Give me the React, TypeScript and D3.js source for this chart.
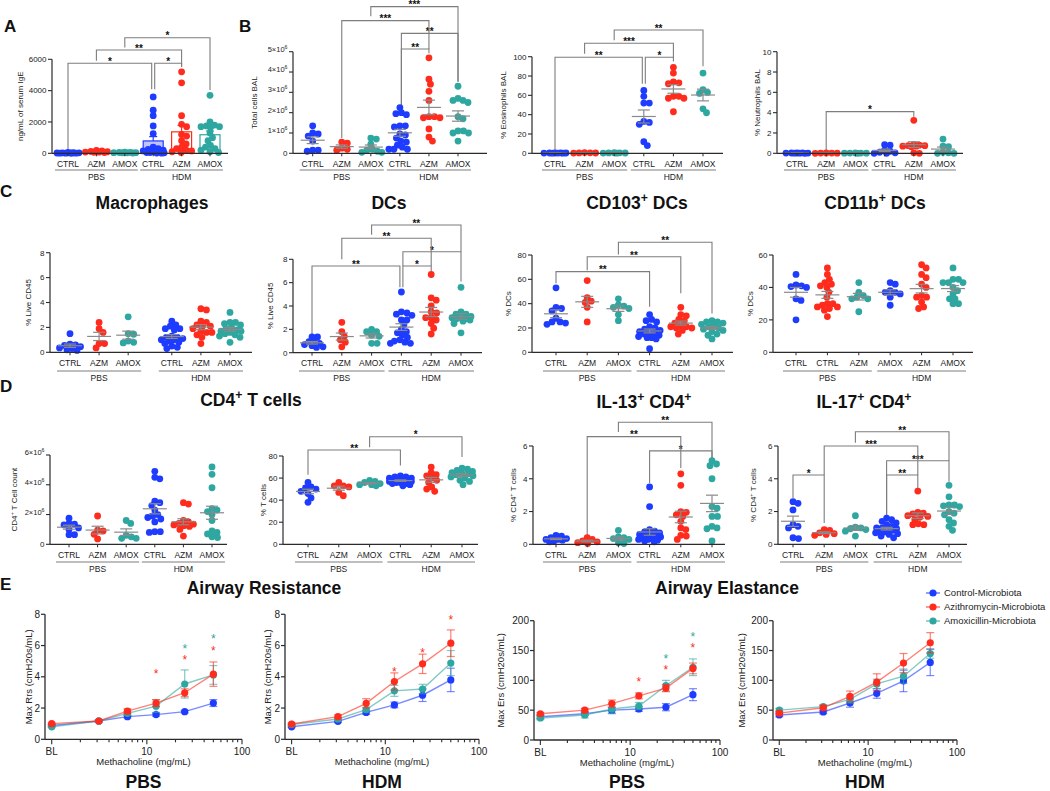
import React from 'react';
import * as d3 from 'd3';

const FONT = "'Liberation Sans', Arial, Helvetica, sans-serif";
const BLUE = '#1e3cff';
const RED = '#ff2b1c';
const TEAL = '#2ea7a0';
const COLORS = [BLUE, RED, TEAL, BLUE, RED, TEAL];

// ---------- categories ----------
const CATS = ['CTRL', 'AZM', 'AMOX', 'CTRL', 'AZM', 'AMOX'];
const CATS_CD11B = ['CTRL', 'CTRL', 'AZM', 'AMOX', 'AZM', 'AMOX'];
const GROUPS = ['PBS', 'HDM'];

// ---------- Panel A: serum IgE (ng/mL) ----------
const IGE: number[][] = [
  [60, 40, 30, 30, 20, 20, 10, 10, 5, 5],
  [180, 150, 120, 100, 80, 70, 60, 50],
  [70, 60, 50, 40, 40, 30, 30, 20],
  [3600, 2750, 2400, 1750, 1250, 400, 300, 250, 200, 150, 100, 100, 50, 50, 30, 20, 10],
  [5200, 4500, 2400, 1850, 1700, 1200, 1100, 800, 600, 400, 300, 200, 150, 100, 50],
  [3700, 2000, 1800, 1750, 1700, 1700, 1650, 1300, 1000, 800, 500, 400, 300, 200, 100, 50],
];

// ---------- Panel B ----------
const BAL_TOTAL: number[][] = [
  [1.35e6, 1.0e6, 0.95e6, 0.85e6, 0.6e6, 0.15e6, 0.15e6, 0.1e6],
  [0.55e6, 0.5e6, 0.25e6, 0.2e6, 0.15e6],
  [0.75e6, 0.7e6, 0.45e6, 0.2e6, 0.15e6, 0.1e6, 0.05e6, 0.05e6],
  [2.25e6, 2.0e6, 1.95e6, 1.9e6, 1.35e6, 1.35e6, 1.3e6, 0.95e6, 0.9e6, 0.75e6, 0.6e6, 0.55e6, 0.4e6, 0.3e6, 0.2e6, 0.2e6, 0.2e6],
  [4.7e6, 3.65e6, 3.4e6, 3.05e6, 2.6e6, 1.8e6, 1.8e6, 1.75e6, 1.75e6, 1.2e6, 0.8e6, 0.6e6],
  [3.3e6, 2.7e6, 2.6e6, 2.6e6, 2.5e6, 1.8e6, 1.7e6, 1.1e6, 1.1e6, 1.0e6, 1.0e6, 0.6e6],
];
const EOS: number[][] = [
  [0.5, 0.4, 0.3, 0.3, 0.2, 0.2, 0.1, 0.1],
  [0.8, 0.5, 0.4, 0.3, 0.2],
  [0.6, 0.5, 0.4, 0.3, 0.2, 0.1],
  [65, 59, 52, 52, 33, 32, 30, 12, 8],
  [89, 83, 74, 73, 72, 59, 59, 57, 57, 43],
  [83, 66, 63, 62, 46, 42],
];
const NEU: number[][] = [
  [0.05, 0.04, 0.03, 0.02, 0.02, 0.01, 0.01, 0],
  [0.03, 0.02, 0.02, 0.01, 0],
  [0.03, 0.02, 0.02, 0.01, 0.01, 0],
  [0.85, 0.8, 0.3, 0.2, 0.1, 0.05, 0, 0],
  [3.25, 0.85, 0.8, 0.75, 0.75, 0.7, 0.7, 0.65, 0.05, 0],
  [1.4, 0.7, 0.65, 0.1, 0.05, 0, 0],
];

// ---------- Panel C ----------
const MACRO: number[][] = [
  [1.5, 0.65, 0.6, 0.55, 0.45, 0.35, 0.3, 0.2, 0.15],
  [2.4, 1.9, 1.6, 0.7, 0.7, 0.35],
  [2.85, 1.5, 1.45, 0.9, 0.8, 0.75],
  [2.5, 2.2, 2.1, 1.9, 1.9, 1.8, 1.3, 1.2, 1.2, 1.1, 1.0, 1.0, 0.9, 0.8, 0.7, 0.5, 0.4, 0.3],
  [3.5, 3.4, 2.5, 2.4, 2.2, 2.1, 2.1, 1.9, 1.7, 1.6, 1.6, 1.4, 1.2, 0.7],
  [3.2, 2.4, 2.4, 2.3, 2.2, 2.0, 1.9, 1.8, 1.7, 1.7, 1.6, 1.5, 1.4, 1.3, 1.2, 0.8],
];
const DCS: number[][] = [
  [1.35, 1.35, 0.95, 0.95, 0.8, 0.7, 0.6, 0.5, 0.45],
  [2.6, 1.8, 1.4, 1.1, 0.9, 0.5],
  [2.0, 1.8, 1.8, 1.5, 1.4, 0.8, 0.8],
  [5.2, 3.5, 3.4, 3.3, 3.2, 2.8, 2.8, 2.4, 2.0, 1.8, 1.7, 1.5, 1.3, 1.1, 1.0, 0.9, 0.8, 0.8],
  [6.7, 4.7, 4.5, 4.0, 3.5, 3.4, 3.0, 3.0, 2.8, 2.5, 2.1, 1.6],
  [5.6, 3.5, 3.3, 3.3, 3.1, 3.0, 3.0, 2.9, 2.9, 2.8, 2.7, 2.5, 1.7],
];
const CD103: number[][] = [
  [53, 37, 36, 34, 28, 25, 25, 24, 23],
  [59, 45, 42, 41, 37, 25],
  [44, 39, 38, 37, 36, 31, 26],
  [31, 27, 26, 25, 21, 20, 19, 18, 17, 16, 16, 15, 14, 13, 12, 12, 11, 3],
  [37, 31, 30, 27, 26, 24, 22, 21, 21, 20, 20, 18, 15],
  [26, 25, 25, 24, 23, 22, 21, 20, 19, 18, 17, 15, 14, 11],
];
const CD11B: number[][] = [
  [48, 41.5, 41, 40.5, 40, 33, 32, 20],
  [52, 48, 45, 43, 42, 41, 40, 37, 34, 30, 30, 29, 28, 28, 27, 26, 22],
  [43, 37, 35, 34, 33, 33, 25],
  [43, 42, 38, 37, 37, 36, 34, 29],
  [54, 52, 48, 46, 42, 40, 35, 34, 34, 31, 28, 27],
  [52, 45, 45, 43, 43, 43, 40, 38, 36, 33, 33, 30, 30],
];

// ---------- Panel D ----------
const CD4_COUNT: number[][] = [
  [1.75e6, 1.4e6, 1.35e6, 1.3e6, 1.1e6, 1.0e6, 0.65e6, 0.65e6],
  [1.9e6, 0.95e6, 0.9e6, 0.67e6, 0.36e6],
  [1.6e6, 1.4e6, 0.6e6, 0.5e6, 0.4e6, 0.4e6],
  [4.9e6, 4.5e6, 4.4e6, 2.9e6, 2.8e6, 2.6e6, 2.3e6, 2.0e6, 1.9e6, 1.8e6, 1.7e6, 1.5e6, 0.85e6, 0.85e6, 0.8e6],
  [2.8e6, 2.7e6, 1.6e6, 1.5e6, 1.4e6, 1.35e6, 1.3e6, 1.25e6, 1.2e6, 1.0e6, 0.55e6],
  [5.2e6, 4.7e6, 3.8e6, 2.4e6, 2.3e6, 2.2e6, 2.0e6, 1.6e6, 0.9e6, 0.8e6, 0.7e6, 0.5e6, 0.45e6],
];
const TCELLS: number[][] = [
  [56, 52, 51, 50, 48, 46, 42, 38],
  [56, 53, 53, 52, 47, 44],
  [58, 57, 56, 55, 54, 54, 53],
  [62, 61, 61, 60, 60, 59, 59, 58, 58, 58, 57, 57, 56, 56, 55, 55, 54, 53],
  [70, 65, 63, 62, 60, 58, 56, 52, 50, 48],
  [69, 68, 67, 66, 65, 64, 64, 63, 62, 61, 60, 58, 57, 54],
];
const IL13: number[][] = [
  [0.55, 0.5, 0.4, 0.35, 0.3, 0.3, 0.25, 0.2, 0.15],
  [0.4, 0.3, 0.2, 0.15, 0.1, 0.05],
  [0.85, 0.45, 0.4, 0.35, 0.3, 0.1, 0.05],
  [3.5, 2.3, 0.9, 0.8, 0.75, 0.7, 0.6, 0.6, 0.5, 0.5, 0.45, 0.4, 0.35, 0.3, 0.3, 0.25, 0.2, 0.15],
  [4.3, 3.6, 2.0, 1.95, 1.8, 1.7, 1.4, 1.0, 0.9, 0.55, 0.5, 0.3],
  [5.1, 4.9, 4.8, 4.0, 2.3, 2.2, 1.7, 1.7, 1.1, 1.0, 0.95, 0.2],
];
const IL17: number[][] = [
  [2.6, 2.5, 2.1, 1.2, 1.1, 1.0, 0.4, 0.35],
  [0.9, 0.85, 0.7, 0.65, 0.6, 0.55],
  [1.75, 1.05, 1.0, 0.95, 0.9, 0.8, 0.5],
  [1.6, 1.5, 1.4, 1.3, 1.2, 1.1, 1.0, 1.0, 0.95, 0.9, 0.85, 0.8, 0.75, 0.7, 0.65, 0.6, 0.5, 0.4],
  [3.25, 1.95, 1.9, 1.85, 1.75, 1.7, 1.65, 1.5, 1.25, 1.2, 1.2],
  [3.6, 2.9, 2.4, 2.4, 2.35, 2.3, 2.0, 1.9, 1.8, 1.5, 1.3, 1.1, 0.85],
];

// ---------- Panel E: lung function ----------
const DOSES = [1, 3.125, 6.25, 12.5, 25, 50]; // first point = BL
const SERIES_NAMES = ['Control-Microbiota', 'Azithromycin-Microbiota', 'Amoxicillin-Microbiota'];
const RRS_PBS = [
  [0.88, 1.17, 1.45, 1.58, 1.77, 2.32],
  [1.0, 1.17, 1.8, 2.32, 2.98, 4.17],
  [0.8, 1.17, 1.66, 2.12, 3.54, 4.12],
];
const RRS_PBS_SEM = [
  [0.06, 0.06, 0.08, 0.1, 0.08, 0.22],
  [0.05, 0.06, 0.15, 0.22, 0.25, 0.78],
  [0.05, 0.06, 0.12, 0.4, 0.9, 0.6],
];
const RRS_HDM = [
  [0.8, 1.15, 1.72, 2.2, 2.82, 3.8],
  [0.98, 1.45, 2.3, 3.7, 4.83, 6.15],
  [0.95, 1.3, 1.9, 3.1, 3.22, 4.88],
];
const RRS_HDM_SEM = [
  [0.05, 0.08, 0.12, 0.18, 0.4, 0.75],
  [0.06, 0.1, 0.3, 0.55, 0.62, 0.85],
  [0.05, 0.08, 0.15, 0.35, 0.3, 0.8],
];
const ERS_PBS = [
  [39, 44, 50, 52, 55, 76],
  [44, 50, 61, 74, 87, 120],
  [37, 42, 52, 57, 91, 122],
];
const ERS_PBS_SEM = [
  [3, 3, 5, 4, 6, 10],
  [2, 3, 6, 5, 6, 9],
  [3, 5, 8, 6, 9, 14],
];
const ERS_HDM = [
  [42, 47, 62, 78, 99, 130],
  [45, 54, 73, 97, 129, 163],
  [50, 56, 68, 94, 107, 145],
];
const ERS_HDM_SEM = [
  [3, 3, 7, 8, 18, 22],
  [3, 4, 9, 14, 16, 17],
  [3, 3, 6, 8, 12, 8],
];
// significance stars: [dose, value, series index]
const STARS_RRS_PBS: [number, number, number][] = [[12.5, 4.35, 1], [25, 5.25, 1], [25, 5.97, 2], [50, 5.82, 1], [50, 6.6, 2]];
const STARS_RRS_HDM: [number, number, number][] = [[12.5, 4.48, 1], [25, 5.71, 1], [50, 7.8, 1]];
const STARS_ERS_PBS: [number, number, number][] = [[12.5, 103, 1], [25, 123, 1], [25, 141, 2], [50, 159, 1], [50, 178, 2]];
const STARS_ERS_HDM: [number, number, number][] = [];

// ---------- helpers ----------
type Part = string | { sup: string };

function Rich({ parts, fs }: { parts: Part[]; fs: number }) {
  const out: React.ReactNode[] = [];
  let shifted = false;
  parts.forEach((p, i) => {
    if (typeof p === 'string') {
      out.push(<tspan key={i} dy={shifted ? fs * 0.38 : 0}>{p}</tspan>);
      shifted = false;
    } else {
      out.push(<tspan key={i} dy={-fs * 0.38} fontSize={fs * 0.7}>{p.sup}</tspan>);
      shifted = true;
    }
  });
  return <>{out}</>;
}

// simple deterministic beeswarm: points sorted by value, each placed at the
// horizontal offset nearest the centre that keeps a minimum distance
function swarm(vals: number[], ys: (v: number) => number, cx: number, minD: number, maxOff: number) {
  const order = vals.map((v, i) => ({ v, i })).sort((p, q) => q.v - p.v);
  const cands: number[] = [];
  for (let k = 0; Math.ceil(k / 2) * 0.5 <= maxOff; k++) {
    cands.push(Math.ceil(k / 2) * 0.5 * (k % 2 === 1 ? 1 : -1));
  }
  const placed: { x: number; y: number }[] = [];
  for (const o of order) {
    const py = ys(o.v);
    let best = 0;
    let bestD = -1;
    for (const m of cands) {
      const x = cx + m;
      let dmin = Infinity;
      for (const p of placed) {
        const d = Math.hypot(p.x - x, p.y - py);
        if (d < dmin) dmin = d;
      }
      if (dmin >= minD) {
        best = m;
        break;
      }
      if (dmin > bestD + 1e-6) {
        bestD = dmin;
        best = m;
      }
    }
    placed.push({ x: cx + best, y: py });
  }
  return placed;
}

type Bracket = { a: number; b: number; level: number; da: number; db: number; label: string; oa?: number; ob?: number };
type Row = { label: number; line: number; group: number };
type DotCfg = {
  data: number[][];
  cats: string[];
  axisX: number;
  axisEnd: number;
  yTop: number;
  yBottom: number;
  cat0: number;
  cat5: number;
  gap?: number;
  yMax: number;
  ticks: number[];
  sci?: boolean;
  ylabel: Part[];
  ylabelX: number;
  row: Row;
  brackets: Bracket[];
  bars?: boolean;
};

const ROW_AB: Row = { label: 166.5, line: 170, group: 180 };
const ROW_C: Row = { label: 365.5, line: 371, group: 381 };
const ROW_D: Row = { label: 557.5, line: 562, group: 572 };

const AXIS = '#2b2b2b';
const GREY = '#8a8a8a';

function TickLabel({ v, sci, x, y }: { v: number; sci?: boolean; x: number; y: number }) {
  if (sci && v !== 0) {
    return (
      <text x={x} y={y} dy="0.35em" textAnchor="end" fontSize={7.5} fill="#222">
        <Rich parts={[`${v / 1e6}×10`, { sup: '6' }]} fs={7.5} />
      </text>
    );
  }
  return (
    <text x={x} y={y} dy="0.35em" textAnchor="end" fontSize={8} fill="#222">
      {d3.format('d')(v)}
    </text>
  );
}

function DotPanel({ c }: { c: DotCfg }) {
  const y = d3.scaleLinear().domain([0, c.yMax]).range([c.yBottom, c.yTop]);
  const g = c.gap ?? 0;
  const xs = d3.scaleLinear().domain([0, 5 + g]).range([c.cat0, c.cat5]);
  const cx = (i: number) => xs(i + (i >= 3 ? g : 0));
  const mid = (c.yTop + c.yBottom) / 2;
  const stats = c.data.map((v) => {
    const m = d3.mean(v) as number;
    const s = (d3.deviation(v) ?? 0) / Math.sqrt(v.length);
    return { m, s };
  });
  return (
    <g>
      {c.brackets.map((b, k) => {
        const xa = cx(b.a) + (b.oa ?? 0);
        const xb = cx(b.b) + (b.ob ?? 0);
        const yl = y(b.level);
        return (
          <g key={'b' + k}>
            <path d={`M${xa},${y(b.da)}V${yl}H${xb}V${y(b.db)}`} fill="none" stroke="#7d7d7d" strokeWidth={1.1} />
            <text x={(xa + xb) / 2} y={yl + 1.8} textAnchor="middle" fontSize={10} fontWeight="bold" fill="#111">
              {b.label}
            </text>
          </g>
        );
      })}
      {c.bars &&
        stats.map((s, i) => (
          <g key={'bar' + i}>
            <rect
              x={cx(i) - 10}
              y={y(s.m)}
              width={20}
              height={Math.max(0.8, y(0) - y(s.m))}
              fill={i === 0 || i === 3 ? 'rgba(80,80,255,0.35)' : 'rgba(255,255,255,0.6)'}
              stroke={COLORS[i]}
              strokeWidth={1.2}
            />
            <line x1={cx(i)} x2={cx(i)} y1={y(s.m)} y2={y(s.m + s.s)} stroke={COLORS[i]} strokeWidth={1.2} />
            <line x1={cx(i) - 4} x2={cx(i) + 4} y1={y(s.m + s.s)} y2={y(s.m + s.s)} stroke={COLORS[i]} strokeWidth={1.2} />
          </g>
        ))}
      {c.data.map((vals, i) =>
        swarm(vals, y, cx(i), 5.2, 11).map((p, k) => <circle key={`p${i}-${k}`} cx={p.x} cy={p.y} r={3.4} fill={COLORS[i]} />)
      )}
      {!c.bars &&
        stats.map((s, i) => (
          <g key={'m' + i} stroke={GREY} strokeWidth={1.2}>
            <line x1={cx(i) - 12} x2={cx(i) + 12} y1={y(s.m)} y2={y(s.m)} />
            <line x1={cx(i)} x2={cx(i)} y1={y(s.m - s.s)} y2={y(s.m + s.s)} />
            <line x1={cx(i) - 6} x2={cx(i) + 6} y1={y(s.m + s.s)} y2={y(s.m + s.s)} />
            <line x1={cx(i) - 6} x2={cx(i) + 6} y1={y(s.m - s.s)} y2={y(s.m - s.s)} />
          </g>
        ))}
      {/* axes */}
      <line x1={c.axisX} x2={c.axisX} y1={c.yBottom} y2={c.yTop} stroke={AXIS} strokeWidth={1.2} />
      <line x1={c.axisX} x2={c.axisEnd} y1={c.yBottom} y2={c.yBottom} stroke={AXIS} strokeWidth={1.2} />
      {c.ticks.map((t) => (
        <g key={'t' + t}>
          <line x1={c.axisX - 4} x2={c.axisX} y1={y(t)} y2={y(t)} stroke={AXIS} strokeWidth={1.1} />
          <TickLabel v={t} sci={c.sci} x={c.axisX - 5.5} y={y(t)} />
        </g>
      ))}
      {c.cats.map((lab, i) => (
        <g key={'c' + i}>
          <line x1={cx(i)} x2={cx(i)} y1={c.yBottom} y2={c.yBottom + 3} stroke={AXIS} strokeWidth={1} />
          <text x={cx(i)} y={c.row.label} textAnchor="middle" fontSize={8.5} fill="#222">
            {lab}
          </text>
        </g>
      ))}
      {GROUPS.map((gname, k) => (
        <g key={'g' + gname}>
          <line
            x1={cx(k * 3) - 13}
            x2={cx(k * 3 + 2) + 13}
            y1={c.row.line}
            y2={c.row.line}
            stroke="#a9a9a9"
            strokeWidth={1.6}
          />
          <text x={cx(k * 3 + 1)} y={c.row.group} textAnchor="middle" fontSize={8.5} fill="#222">
            {gname}
          </text>
        </g>
      ))}
      <text
        transform={`translate(${c.ylabelX},${mid}) rotate(-90)`}
        textAnchor="middle"
        dy="0.35em"
        fontSize={8}
        fill="#222"
      >
        <Rich parts={c.ylabel} fs={8} />
      </text>
    </g>
  );
}

const T10 = [0, 2, 4, 6, 8, 10];
const T100 = [0, 20, 40, 60, 80, 100];

const DOT_PANELS: DotCfg[] = [
  {
    data: IGE, cats: CATS, axisX: 52, axisEnd: 228, yTop: 59.3, yBottom: 153.3, cat0: 68, cat5: 210,
    yMax: 6000, ticks: [0, 2000, 4000, 6000], ylabel: ['ng/mL of serum IgE'], ylabelX: 23, row: ROW_AB, bars: true,
    brackets: [
      { a: 0, b: 3, level: 5745, da: 100, db: 4085, label: '*', ob: -1.5 },
      { a: 3, b: 4, level: 5745, da: 4085, db: 5530, label: '*', oa: 1.5 },
      { a: 1, b: 4, level: 6595, da: 5900, db: 5530, label: '**' },
      { a: 2, b: 5, level: 7380, da: 6750, db: 4040, label: '*' },
    ],
  },
  {
    data: BAL_TOTAL, cats: CATS, axisX: 293, axisEnd: 487, yTop: 51.7, yBottom: 153.3, cat0: 312.7, cat5: 458,
    yMax: 5e6, ticks: [0, 1e6, 2e6, 3e6, 4e6, 5e6], sci: true, ylabel: ['Total cells BAL'], ylabelX: 257, row: ROW_AB,
    brackets: [
      { a: 3, b: 4, level: 5.13e6, da: 2.38e6, db: 4.92e6, label: '**', oa: 1.5 },
      { a: 3, b: 5, level: 5.9e6, da: 2.38e6, db: 3.52e6, label: '**', oa: 1.5 },
      { a: 1, b: 4, level: 6.53e6, da: 0.75e6, db: 5.13e6, label: '***' },
      { a: 2, b: 5, level: 7.22e6, da: 6.75e6, db: 3.52e6, label: '***' },
    ],
  },
  {
    data: EOS, cats: CATS, axisX: 532, axisEnd: 723, yTop: 56.7, yBottom: 153.3, cat0: 555, cat5: 703,
    yMax: 100, ticks: T100, ylabel: ['% Eosinophils BAL'], ylabelX: 506, row: ROW_AB,
    brackets: [
      { a: 0, b: 3, level: 99.4, da: 2, db: 72, label: '**', ob: -1.5 },
      { a: 3, b: 4, level: 99.4, da: 72, db: 95, label: '*', oa: 1.5 },
      { a: 1, b: 4, level: 113.9, da: 103, db: 99.4, label: '***' },
      { a: 2, b: 5, level: 127.6, da: 117, db: 90, label: '**' },
    ],
  },
  {
    data: NEU, cats: CATS, axisX: 777, axisEnd: 963, yTop: 51.7, yBottom: 153.3, cat0: 797, cat5: 943,
    yMax: 10, ticks: T10, ylabel: ['% Neutrophils BAL'], ylabelX: 760, row: ROW_AB,
    brackets: [{ a: 1, b: 4, level: 4.1, da: 0.15, db: 3.6, label: '*' }],
  },
  {
    data: MACRO, cats: CATS, axisX: 50, axisEnd: 252, yTop: 252.7, yBottom: 352.3, cat0: 70, cat5: 230, gap: 0.5,
    yMax: 8, ticks: [0, 2, 4, 6, 8], ylabel: ['% Live CD45'], ylabelX: 31, row: ROW_C, brackets: [],
  },
  {
    data: DCS, cats: CATS, axisX: 293, axisEnd: 482, yTop: 259.3, yBottom: 352.7, cat0: 312, cat5: 461,
    yMax: 8, ticks: [0, 2, 4, 6, 8], ylabel: ['% Live CD45'], ylabelX: 273, row: ROW_C,
    brackets: [
      { a: 0, b: 3, level: 7.43, da: 1.6, db: 5.6, label: '**', ob: -1.5 },
      { a: 3, b: 4, level: 7.43, da: 5.6, db: 7.0, label: '*', oa: 1.5 },
      { a: 3, b: 5, level: 8.65, da: 7.43, db: 6.1, label: '*', oa: 1.5 },
      { a: 1, b: 4, level: 9.8, da: 8.0, db: 7.43, label: '**' },
      { a: 2, b: 5, level: 10.94, da: 10.1, db: 8.65, label: '**' },
    ],
  },
  {
    data: CD103, cats: CATS, axisX: 532, axisEnd: 733, yTop: 255, yBottom: 352.3, cat0: 556, cat5: 712,
    yMax: 80, ticks: [0, 20, 40, 60, 80], ylabel: ['% DCs'], ylabelX: 511, row: ROW_C,
    brackets: [
      { a: 0, b: 3, level: 66.3, da: 56.7, db: 37.5, label: '**' },
      { a: 1, b: 4, level: 78.6, da: 67.5, db: 48.5, label: '**' },
      { a: 2, b: 5, level: 90.5, da: 80.5, db: 32, label: '**' },
    ],
  },
  {
    data: CD11B, cats: CATS_CD11B, axisX: 773, axisEnd: 973, yTop: 255, yBottom: 352.3, cat0: 796, cat5: 953,
    yMax: 60, ticks: [0, 20, 40, 60], ylabel: ['% DCs'], ylabelX: 753, row: ROW_C, brackets: [],
  },
  {
    data: CD4_COUNT, cats: CATS, axisX: 50, axisEnd: 227, yTop: 455, yBottom: 544.3, cat0: 69, cat5: 212,
    yMax: 6e6, ticks: [0, 2e6, 4e6, 6e6], sci: true, ylabel: ['CD4', { sup: '+' }, ' T Cell count'], ylabelX: 17,
    row: ROW_D, brackets: [],
  },
  {
    data: TCELLS, cats: CATS, axisX: 283, axisEnd: 478, yTop: 456, yBottom: 544.3, cat0: 308, cat5: 462,
    yMax: 80, ticks: [0, 20, 40, 60, 80], ylabel: ['% T cells'], ylabelX: 266, row: ROW_D,
    brackets: [
      { a: 0, b: 3, level: 85.4, da: 63, db: 71.5, label: '**' },
      { a: 2, b: 5, level: 97.5, da: 88, db: 79, label: '*' },
    ],
  },
  {
    data: IL13, cats: CATS, axisX: 533, axisEnd: 725, yTop: 446, yBottom: 544.3, cat0: 556, cat5: 712,
    yMax: 6, ticks: [0, 2, 4, 6], ylabel: ['% CD4', { sup: '+' }, ' T cells'], ylabelX: 516, row: ROW_D,
    brackets: [
      { a: 3, b: 5, level: 5.7, da: 3.74, db: 5.15, label: '*' },
      { a: 1, b: 4, level: 6.57, da: 0.55, db: 4.66, label: '**' },
      { a: 2, b: 5, level: 7.45, da: 6.85, db: 5.15, label: '**' },
    ],
  },
  {
    data: IL17, cats: CATS, axisX: 778, axisEnd: 967, yTop: 446, yBottom: 544.3, cat0: 793, cat5: 949,
    yMax: 6, ticks: [0, 2, 4, 6], ylabel: ['% CD4', { sup: '+' }, ' T cells'], ylabelX: 756, row: ROW_D,
    brackets: [
      { a: 0, b: 1, level: 4.23, da: 2.83, db: 1.3, label: '*' },
      { a: 3, b: 4, level: 4.23, da: 1.68, db: 3.43, label: '**' },
      { a: 3, b: 5, level: 5.1, da: 1.68, db: 3.82, label: '***' },
      { a: 1, b: 4, level: 6.0, da: 4.23, db: 4.23, label: '***' },
      { a: 2, b: 5, level: 6.87, da: 6.2, db: 5.1, label: '**' },
    ],
  },
];

// ---------- line panels ----------
type LineCfg = {
  axisX: number;
  axisEnd: number;
  yTop: number;
  yBottom: number;
  yMax: number;
  ticks: number[];
  ylabel: string;
  ylabelX: number;
  vals: number[][];
  sems: number[][];
  stars: [number, number, number][];
  title: string;
};
const SERIES_COLORS = [BLUE, RED, TEAL];
const LOG_TICKS = [1, 2, 3, 4, 5, 6, 7, 8, 9, 10, 20, 30, 40, 50, 60, 70, 80, 90, 100];

function LinePanel({ c }: { c: LineCfg }) {
  const x = d3.scaleLog().domain([0.85, 100]).range([c.axisX, c.axisEnd]);
  const y = d3.scaleLinear().domain([0, c.yMax]).range([c.yBottom, c.yTop]);
  const line = d3
    .line<number>()
    .x((_, i) => x(DOSES[i]))
    .y((d) => y(d));
  const order = [0, 2, 1];
  const midX = (c.axisX + c.axisEnd) / 2;
  return (
    <g>
      {order.map((s) => (
        <g key={'s' + s}>
          <path d={line(c.vals[s]) || ''} fill="none" stroke={SERIES_COLORS[s]} strokeOpacity={0.6} strokeWidth={1.4} />
          {c.vals[s].map((v, i) => {
            const xx = x(DOSES[i]);
            const e = c.sems[s][i];
            return (
              <g key={i} stroke={SERIES_COLORS[s]} strokeOpacity={0.6} strokeWidth={1.2}>
                <line x1={xx} x2={xx} y1={y(v - e)} y2={y(v + e)} />
                <line x1={xx - 4} x2={xx + 4} y1={y(v + e)} y2={y(v + e)} />
                <line x1={xx - 4} x2={xx + 4} y1={y(v - e)} y2={y(v - e)} />
              </g>
            );
          })}
          {c.vals[s].map((v, i) => (
            <circle key={'c' + i} cx={x(DOSES[i])} cy={y(v)} r={3.6} fill={SERIES_COLORS[s]} />
          ))}
        </g>
      ))}
      {c.stars.map(([d, v, s], k) => (
        <text key={'st' + k} x={x(d)} y={y(v) + 7} textAnchor="middle" fontSize={12} fill={SERIES_COLORS[s]}>
          *
        </text>
      ))}
      <line x1={c.axisX} x2={c.axisX} y1={c.yBottom} y2={c.yTop} stroke={AXIS} strokeWidth={1.3} />
      <line x1={c.axisX} x2={c.axisEnd} y1={c.yBottom} y2={c.yBottom} stroke={AXIS} strokeWidth={1.3} />
      {c.ticks.map((t) => (
        <g key={'yt' + t}>
          <line x1={c.axisX - 4} x2={c.axisX} y1={y(t)} y2={y(t)} stroke={AXIS} strokeWidth={1.2} />
          <text x={c.axisX - 5} y={y(t)} dy="0.35em" textAnchor="end" fontSize={10} fill="#222">
            {t}
          </text>
        </g>
      ))}
      {LOG_TICKS.map((t) => {
        const major = t === 1 || t === 10 || t === 100;
        return (
          <line key={'xt' + t} x1={x(t)} x2={x(t)} y1={c.yBottom} y2={c.yBottom + (major ? 5 : 3)} stroke={AXIS} strokeWidth={1.1} />
        );
      })}
      {[
        [1, 'BL'],
        [10, '10'],
        [100, '100'],
      ].map(([t, lab]) => (
        <text key={'xl' + lab} x={x(t as number)} y={c.yBottom + 16} textAnchor="middle" fontSize={10} fill="#222">
          {lab}
        </text>
      ))}
      <text x={midX} y={c.yBottom + 26} textAnchor="middle" fontSize={9.5} fill="#222">
        Methacholine (mg/mL)
      </text>
      <text
        transform={`translate(${c.ylabelX},${(c.yTop + c.yBottom) / 2}) rotate(-90)`}
        textAnchor="middle"
        dy="0.35em"
        fontSize={9.5}
        fill="#222"
      >
        {c.ylabel}
      </text>
      <text x={midX} y={788} textAnchor="middle" fontSize={17.5} fontWeight="bold" fill="#111">
        {c.title}
      </text>
    </g>
  );
}

const LINE_PANELS: LineCfg[] = [
  {
    axisX: 45, axisEnd: 242, yTop: 614.3, yBottom: 739.3, yMax: 8, ticks: [0, 2, 4, 6, 8],
    ylabel: 'Max Rrs (cmH20s/mL)', ylabelX: 29, vals: RRS_PBS, sems: RRS_PBS_SEM, stars: STARS_RRS_PBS, title: 'PBS',
  },
  {
    axisX: 285, axisEnd: 479, yTop: 614.3, yBottom: 739.3, yMax: 8, ticks: [0, 2, 4, 6, 8],
    ylabel: 'Max Rrs (cmH20s/mL)', ylabelX: 268, vals: RRS_HDM, sems: RRS_HDM_SEM, stars: STARS_RRS_HDM, title: 'HDM',
  },
  {
    axisX: 534, axisEnd: 720, yTop: 620.7, yBottom: 740, yMax: 200, ticks: [0, 50, 100, 150, 200],
    ylabel: 'Max Ers (cmH20s/mL)', ylabelX: 501, vals: ERS_PBS, sems: ERS_PBS_SEM, stars: STARS_ERS_PBS, title: 'PBS',
  },
  {
    axisX: 773, axisEnd: 957, yTop: 620.7, yBottom: 740, yMax: 200, ticks: [0, 50, 100, 150, 200],
    ylabel: 'Max Ers (cmH20s/mL)', ylabelX: 742, vals: ERS_HDM, sems: ERS_HDM_SEM, stars: STARS_ERS_HDM, title: 'HDM',
  },
];

type TitleDef = { x: number; y: number; parts: Part[] };
const TITLES: TitleDef[] = [
  { x: 152, y: 209, parts: ['Macrophages'] },
  { x: 389, y: 209, parts: ['DCs'] },
  { x: 637, y: 209, parts: ['CD103', { sup: '+' }, ' DCs'] },
  { x: 875, y: 209, parts: ['CD11b', { sup: '+' }, ' DCs'] },
  { x: 251, y: 406, parts: ['CD4', { sup: '+' }, ' T cells'] },
  { x: 644, y: 408, parts: ['IL-13', { sup: '+' }, ' CD4', { sup: '+' }] },
  { x: 864, y: 408, parts: ['IL-17', { sup: '+' }, ' CD4', { sup: '+' }] },
  { x: 264, y: 594, parts: ['Airway Resistance'] },
  { x: 727, y: 594, parts: ['Airway Elastance'] },
];
const LETTERS: [string, number, number][] = [
  ['A', 4, 32],
  ['B', 239, 32],
  ['C', 0, 197],
  ['D', 0, 392],
  ['E', 0, 590],
];

export default function App() {
  return (
    <svg
      width={1050}
      height={791}
      viewBox="0 0 1050 791"
      style={{ position: 'absolute', left: 0, top: 0, background: '#fff' }}
      fontFamily={FONT}
    >
      <rect x={0} y={0} width={1050} height={791} fill="#fff" />
      {LETTERS.map(([l, x, y]) => (
        <text key={l} x={x} y={y} fontSize={17} fontWeight="bold" fill="#111">
          {l}
        </text>
      ))}
      {TITLES.map((t, i) => (
        <text key={'ti' + i} x={t.x} y={t.y} textAnchor="middle" fontSize={17.5} fontWeight="bold" fill="#111">
          <Rich parts={t.parts} fs={17.5} />
        </text>
      ))}
      {DOT_PANELS.map((c, i) => (
        <DotPanel key={'dp' + i} c={c} />
      ))}
      {LINE_PANELS.map((c, i) => (
        <LinePanel key={'lp' + i} c={c} />
      ))}
      {SERIES_NAMES.map((n, i) => (
        <g key={'lg' + i}>
          <line x1={926} x2={940} y1={593 + i * 14} y2={593 + i * 14} stroke={SERIES_COLORS[i]} strokeOpacity={0.7} strokeWidth={1.4} />
          <circle cx={933} cy={593 + i * 14} r={3.6} fill={SERIES_COLORS[i]} />
          <text x={944} y={593 + i * 14} dy="0.35em" fontSize={9.5} fill="#222">
            {n}
          </text>
        </g>
      ))}
    </svg>
  );
}
